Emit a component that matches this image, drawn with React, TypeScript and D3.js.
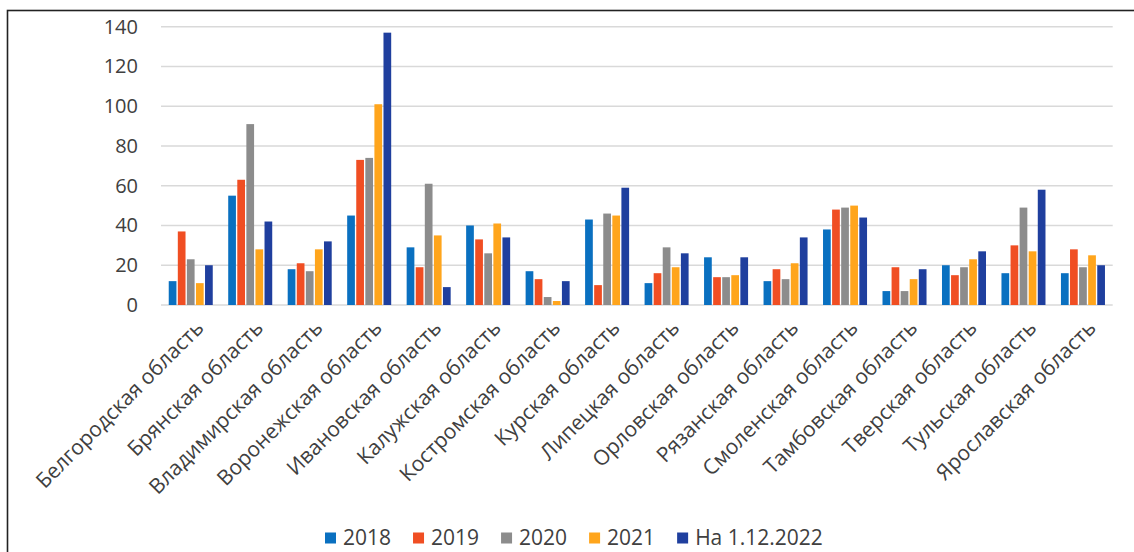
import { useEffect, useRef } from 'react'
import * as d3 from 'd3'

const regions = [
  'Белгородская область',
  'Брянская область',
  'Владимирская область',
  'Воронежская область',
  'Ивановская область',
  'Калужская область',
  'Костромская область',
  'Курская область',
  'Липецкая область',
  'Орловская область',
  'Рязанская область',
  'Смоленская область',
  'Тамбовская область',
  'Тверская область',
  'Тульская область',
  'Ярославская область',
]

const seriesNames = ['2018', '2019', '2020', '2021', 'На 1.12.2022']
const seriesColors = ['#0a70c0', '#f04e23', '#8c8c8c', '#ffa51c', '#1f3f9e']

const values2018 = [12, 55, 18, 45, 29, 40, 17, 43, 11, 24, 12, 38, 7, 20, 16, 16]
const values2019 = [37, 63, 21, 73, 19, 33, 13, 10, 16, 14, 18, 48, 19, 15, 30, 28]
const values2020 = [23, 91, 17, 74, 61, 26, 4, 46, 29, 14, 13, 49, 7, 19, 49, 19]
const values2021 = [11, 28, 28, 101, 35, 41, 2, 45, 19, 15, 21, 50, 13, 23, 27, 25]
const values2022 = [20, 42, 32, 137, 9, 34, 12, 59, 26, 24, 34, 44, 18, 27, 58, 20]

const seriesValues = [values2018, values2019, values2020, values2021, values2022]
const yTicks = [0, 20, 40, 60, 80, 100, 120, 140]

const WIDTH = 1134
const HEIGHT = 552
const FONT = '"Open Sans", "Liberation Sans", sans-serif'
const TEXT_COLOR = '#404040'

export default function App() {
  const svgRef = useRef<SVGSVGElement | null>(null)

  useEffect(() => {
    const svg = d3.select(svgRef.current)
    svg.selectAll('*').remove()

    const left = 161
    const right = 1112.7
    const top = 26.7
    const bottom = 305

    // frame around the figure, cut off at right and bottom
    svg
      .append('rect')
      .attr('x', 7.5)
      .attr('y', 10.5)
      .attr('width', 1300)
      .attr('height', 700)
      .attr('fill', 'none')
      .attr('stroke', '#222')
      .attr('stroke-width', 1.6)

    const x0 = d3.scaleBand<string>().domain(regions).range([left, right]).paddingInner(0.26).paddingOuter(0.13)
    const x1 = d3
      .scaleBand<string>()
      .domain(seriesNames)
      .range([0, x0.bandwidth()])
      .paddingInner(0.15)
    const y = d3.scaleLinear().domain([0, 140]).range([bottom, top])

    svg
      .append('g')
      .selectAll('line')
      .data(yTicks)
      .join('line')
      .attr('x1', left)
      .attr('x2', right)
      .attr('y1', (d) => y(d))
      .attr('y2', (d) => y(d))
      .attr('stroke', '#d9d9d9')
      .attr('stroke-width', 1.5)

    svg
      .append('g')
      .selectAll('text')
      .data(yTicks)
      .join('text')
      .attr('x', 138)
      .attr('y', (d) => y(d))
      .attr('dy', '0.35em')
      .attr('text-anchor', 'end')
      .attr('font-family', FONT)
      .attr('font-size', 20)
      .attr('fill', TEXT_COLOR)
      .text((d) => d)

    const groups = svg
      .append('g')
      .selectAll('g')
      .data(regions)
      .join('g')
      .attr('transform', (d) => `translate(${x0(d)},0)`)

    groups
      .selectAll('rect')
      .data((_, i) => seriesNames.map((name, s) => ({ name, s, value: seriesValues[s][i] })))
      .join('rect')
      .attr('x', (d) => x1(d.name) ?? 0)
      .attr('width', x1.bandwidth())
      .attr('y', (d) => y(d.value))
      .attr('height', (d) => bottom - y(d.value))
      .attr('fill', (d) => seriesColors[d.s])

    svg
      .append('g')
      .selectAll('text')
      .data(regions)
      .join('text')
      .attr(
        'transform',
        (d) => `translate(${(x0(d) ?? 0) + x0.bandwidth() / 2 + 9},${bottom + 19}) rotate(-45)`,
      )
      .attr('text-anchor', 'end')
      .attr('dy', '0.35em')
      .attr('font-family', FONT)
      .attr('font-size', 21)
      .attr('fill', TEXT_COLOR)
      .text((d) => d)

    // legend, laid out left to right from measured text widths
    const legend = svg.append('g').attr('transform', 'translate(325,538)')
    let cursor = 0
    seriesNames.forEach((name, i) => {
      const item = legend.append('g').attr('transform', `translate(${cursor},0)`)
      item
        .append('rect')
        .attr('x', 0)
        .attr('y', -5.5)
        .attr('width', 11)
        .attr('height', 11)
        .attr('fill', seriesColors[i])
      const label = item
        .append('text')
        .attr('x', 18)
        .attr('dy', '0.35em')
        .attr('font-family', FONT)
        .attr('font-size', 21)
        .attr('fill', TEXT_COLOR)
        .text(name)
      const length = (label.node() as SVGTextElement).getComputedTextLength()
      cursor += 18 + length + 22
    })
  }, [])

  return (
    <svg
      ref={svgRef}
      width={WIDTH}
      height={HEIGHT}
      style={{ position: 'fixed', left: 0, top: 0, background: '#fff' }}
    />
  )
}
